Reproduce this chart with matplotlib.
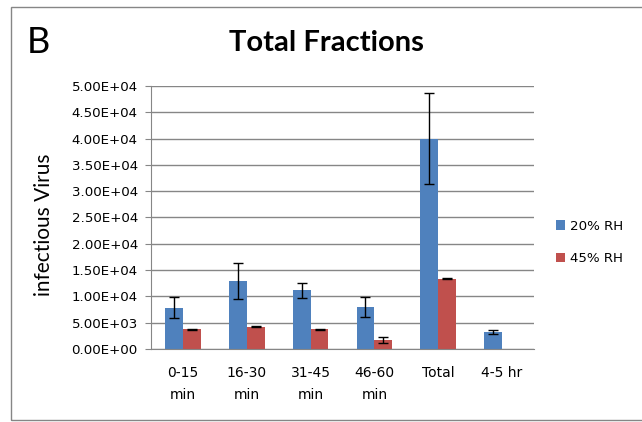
import numpy as np
import matplotlib
matplotlib.use("Agg")
from matplotlib import pyplot as plt
from matplotlib.patches import Rectangle

# data
categories = ["0-15\nmin", "16-30\nmin", "31-45\nmin", "46-60\nmin", "Total", "4-5 hr"]
rh20 = [7800, 12900, 11150, 8000, 40000, 3200]
rh20_err = [2000, 3400, 1400, 1850, 8600, 350]
rh45 = [3750, 4250, 3750, 1700, 13400, np.nan]
rh45_err = [120, 120, 100, 650, 60, np.nan]
yticks = np.arange(0, 50001, 5000)

plt.rcParams["font.family"] = ["DejaVu Sans"]

W, H = 642, 422
fig = plt.figure(figsize=(W / 100, H / 100), dpi=100)
ax = fig.add_axes([151 / W, 1 - 349 / H, 383 / W, 263 / H])

x = np.arange(len(categories))
w = 0.28
err_kw = dict(ecolor="black", capsize=3.6, elinewidth=1, capthick=1)
ax.bar(x - w / 2, rh20, w, yerr=rh20_err, color="#4F81BD", label="20% RH",
       error_kw=err_kw, zorder=2)
ax.bar(x + w / 2, rh45, w, yerr=rh45_err, color="#C0504D", label="45% RH",
       error_kw=err_kw, zorder=2)

ax.set_xlim(-0.5, len(categories) - 0.5)
ax.set_ylim(0, 50000)
ax.set_yticks(yticks)
ax.set_yticklabels([f"{v:.2E}" for v in yticks], fontsize=9.6)
ax.set_xticks(x)
ax.set_xticklabels(categories, fontsize=10, linespacing=1.8)
ax.tick_params(axis="x", length=0, pad=12)
ax.tick_params(axis="y", length=4, color="#868686", pad=5.5)
ax.yaxis.grid(True, color="#868686", linewidth=1, zorder=0)
ax.set_axisbelow(True)
for side in ["top", "right"]:
    ax.spines[side].set_visible(False)
ax.spines["left"].set_color("#868686")
ax.spines["bottom"].set_color("#868686")

fig.text(44 / W, 1 - 225 / H, "infectious Virus", fontsize=15,
         family="Lato", rotation=90, ha="center", va="center")
fig.text(326 / W, 1 - 51 / H, "Total Fractions", fontsize=21,
         family="Lato", fontweight="bold", ha="center", va="baseline")
fig.text(27 / W, 1 - 53 / H, "B", fontsize=26, family="Lato",
         ha="left", va="baseline")

ax.legend(loc="center left", bbox_to_anchor=(1.025, 0.405), frameon=False,
          fontsize=9.6, handlelength=0.7, handleheight=0.7,
          labelspacing=1.45, handletextpad=0.4)

fig.patches.append(Rectangle((11 / W, 2 / H), (W - 5) / W, 413 / H,
                             transform=fig.transFigure, fill=False,
                             edgecolor="#868686", linewidth=1))

fig.savefig("out.png", dpi=100)
